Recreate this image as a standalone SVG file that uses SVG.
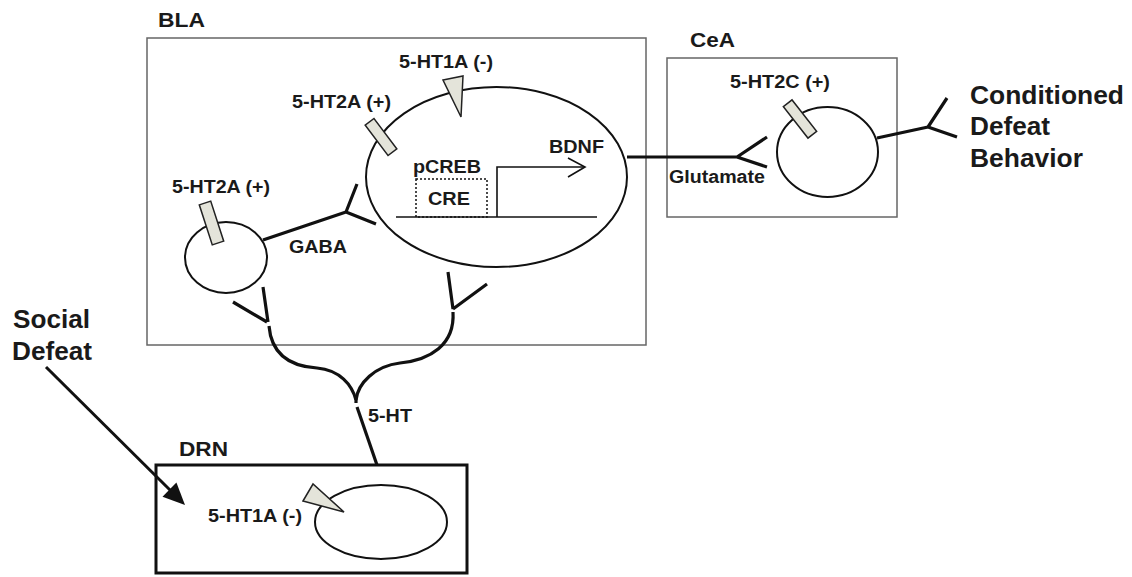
<svg xmlns="http://www.w3.org/2000/svg" width="1132" height="577" viewBox="0 0 1132 577">
<style>
.region{fill:none;stroke:#666;stroke-width:1.5}
.cell{fill:#fff;stroke:#111;stroke-width:2}
.axon{fill:none;stroke:#111;stroke-width:3.2;stroke-linecap:butt;stroke-linejoin:round}
.thin{fill:none;stroke:#111;stroke-width:1.6}
.rcpt{fill:#e4e4da;stroke:#222;stroke-width:1.5}
text{font-family:"Liberation Sans",Arial,sans-serif;font-weight:bold;fill:#1a1a1a}
.lbl{font-size:18px}
.reg{font-size:21px}
.big{font-size:25.5px}
</style>
<rect width="1132" height="577" fill="#fff"/>
<g id="BLA">
<rect class="region" x="147" y="38" width="499" height="307"/>
<text class="reg" x="158" y="27" textLength="47" lengthAdjust="spacingAndGlyphs">BLA</text>
</g>
<g id="BLA-principal-neuron">
<ellipse class="cell" cx="496.5" cy="177" rx="130.5" ry="90"/>
<polygon class="rcpt" points="443,80 463,76 461,117"/>
<rect class="rcpt" x="-19" y="-5.5" width="38" height="11" transform="translate(381,137) rotate(53)"/>
<text class="lbl" x="399" y="68" textLength="94" lengthAdjust="spacingAndGlyphs">5-HT1A (-)</text>
<text class="lbl" x="292" y="108" textLength="99" lengthAdjust="spacingAndGlyphs">5-HT2A (+)</text>
<rect x="416" y="179" width="71" height="38" fill="none" stroke="#111" stroke-width="1.5" stroke-dasharray="2,2"/>
<text class="lbl" x="413" y="173" textLength="68" lengthAdjust="spacingAndGlyphs">pCREB</text>
<text class="lbl" x="428" y="205" textLength="42" lengthAdjust="spacingAndGlyphs">CRE</text>
<path class="thin" d="M396,217 H597"/>
<path class="thin" d="M497,217 V167 H585"/>
<path class="thin" d="M568,158 L585,167 L568,177"/>
<text class="lbl" x="549" y="153" textLength="55" lengthAdjust="spacingAndGlyphs">BDNF</text>
</g>
<g id="BLA-interneuron">
<ellipse class="cell" cx="226" cy="257.5" rx="41" ry="35.5"/>
<rect class="rcpt" x="-21" y="-6" width="42" height="12" transform="translate(211.5,223) rotate(72)"/>
<text class="lbl" x="172" y="193" textLength="98" lengthAdjust="spacingAndGlyphs">5-HT2A (+)</text>
</g>
<g id="CeA">
<rect class="region" x="667" y="58" width="230" height="159"/>
<text class="reg" x="690" y="47" textLength="45" lengthAdjust="spacingAndGlyphs">CeA</text>
</g>
<g id="CeA-neuron">
<ellipse class="cell" cx="827.5" cy="152" rx="50.5" ry="45"/>
<rect class="rcpt" x="-20" y="-5.5" width="40" height="11" transform="translate(800,119) rotate(52)"/>
<text class="lbl" x="730" y="88" textLength="100" lengthAdjust="spacingAndGlyphs">5-HT2C (+)</text>
</g>
<g id="DRN">
<rect x="156" y="465" width="311" height="108" fill="none" stroke="#111" stroke-width="3"/>
<text class="reg" x="179" y="456" textLength="49" lengthAdjust="spacingAndGlyphs">DRN</text>
</g>
<g id="DRN-neuron">
<ellipse class="cell" cx="381" cy="522" rx="66" ry="37"/>
<polygon class="rcpt" points="303,501 313,484 344,512"/>
<text class="lbl" x="208" y="522" textLength="94" lengthAdjust="spacingAndGlyphs">5-HT1A (-)</text>
</g>
<g id="social-defeat">
<text class="big" x="13" y="328" textLength="77" lengthAdjust="spacingAndGlyphs">Social</text>
<text class="big" x="12" y="360" textLength="80" lengthAdjust="spacingAndGlyphs">Defeat</text>
</g>
<g id="conditioned-defeat-behavior">
<text class="big" x="970" y="104" textLength="154" lengthAdjust="spacingAndGlyphs">Conditioned</text>
<text class="big" x="970" y="135" textLength="80" lengthAdjust="spacingAndGlyphs">Defeat</text>
<text class="big" x="970" y="167" textLength="113" lengthAdjust="spacingAndGlyphs">Behavior</text>
</g>
<g id="connectors">
<path class="axon" d="M263,240 L346,212 M357,184 L346,212 L376,224"/>
<text class="lbl" x="289" y="253" textLength="58" lengthAdjust="spacingAndGlyphs">GABA</text>
<path class="axon" d="M627,157 H737 M767,137 L737,157 L767,167"/>
<text class="lbl" x="669" y="183" textLength="96" lengthAdjust="spacingAndGlyphs">Glutamate</text>
<path class="axon" d="M877,138 L928,127 M947,98 L928,127 L957,137"/>
<path class="axon" d="M233,302 L267,322 M263,287 L268,322"/>
<path class="axon" d="M448,272 L453,309 M487,284 L453,309"/>
<path class="axon" d="M269,326 C271,350 285,366 317,368 C340,370 352,385 356,400 V403"/>
<path class="axon" d="M453,312 C455,345 430,360 400,363 C375,366 358,383 356,400"/>
<path class="axon" d="M357,407 L377,465"/>
<text class="lbl" x="368" y="422" textLength="44" lengthAdjust="spacingAndGlyphs">5-HT</text>
<path d="M46,367 L171,491" fill="none" stroke="#111" stroke-width="3"/>
<polygon points="185,505 162.5,496.7 176.4,482.5" fill="#111"/>
</g>
</svg>
